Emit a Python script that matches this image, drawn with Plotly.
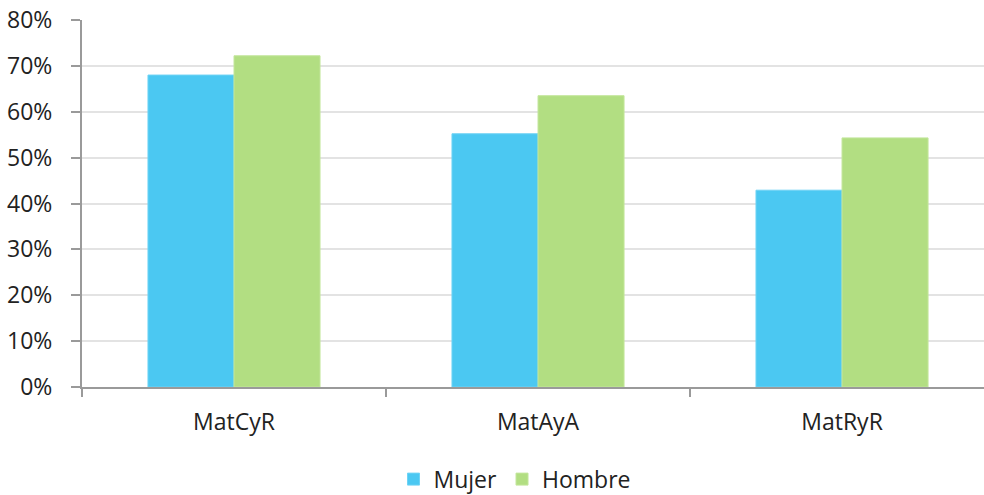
import plotly.graph_objects as go

categories = ["MatCyR", "MatAyA", "MatRyR"]
mujer = [0.680, 0.552, 0.429]
hombre = [0.722, 0.635, 0.543]
y_ticks = [0, 0.1, 0.2, 0.3, 0.4, 0.5, 0.6, 0.7, 0.8]
y_tick_labels = ["0%", "10%", "20%", "30%", "40%", "50%", "60%", "70%", "80%"]

FONT = "Open Sans"
TEXT = "#222222"
AXIS = "#9a9a9a"
GRID = "#e3e3e3"

fig = go.Figure()
fig.add_trace(go.Bar(
    name="Mujer", x=categories, y=mujer,
    marker=dict(color="#4BC8F2", line=dict(color="#6fd3f5", width=1)),
))
fig.add_trace(go.Bar(
    name="Hombre", x=categories, y=hombre,
    marker=dict(color="#B2DE82", line=dict(color="#c3e69c", width=1)),
))

fig.update_layout(
    width=984, height=495,
    margin=dict(l=82, r=0, t=19.5, b=107.5, autoexpand=False),
    paper_bgcolor="white", plot_bgcolor="white",
    barmode="group", bargap=0.434, bargroupgap=0,
    font=dict(family=FONT, size=23, color=TEXT),
    showlegend=True,
    legend=dict(
        orientation="h", x=0.4795, xanchor="center",
        yref="container", y=0.032, yanchor="middle",
        font=dict(family=FONT, size=23, color=TEXT),
        itemwidth=30, tracegroupgap=0,
    ),
    xaxis=dict(
        type="category", range=[-0.5, 2.467],
        showline=True, linecolor=AXIS, linewidth=2,
        ticks="outside", tickson="boundaries", ticklen=8, tickcolor=AXIS, tickwidth=2,
        ticklabelstandoff=13, showgrid=False,
        tickfont=dict(family=FONT, size=23, color=TEXT),
    ),
    yaxis=dict(
        range=[0, 0.8], tickvals=y_ticks, ticktext=y_tick_labels,
        showline=True, linecolor=AXIS, linewidth=2,
        ticks="outside", ticklen=9, tickcolor=AXIS, tickwidth=2,
        ticklabelstandoff=14,
        showgrid=True, gridcolor=GRID, gridwidth=2,
        zeroline=False,
        tickfont=dict(family=FONT, size=23, color=TEXT),
    ),
)

fig.write_html("out.html")
